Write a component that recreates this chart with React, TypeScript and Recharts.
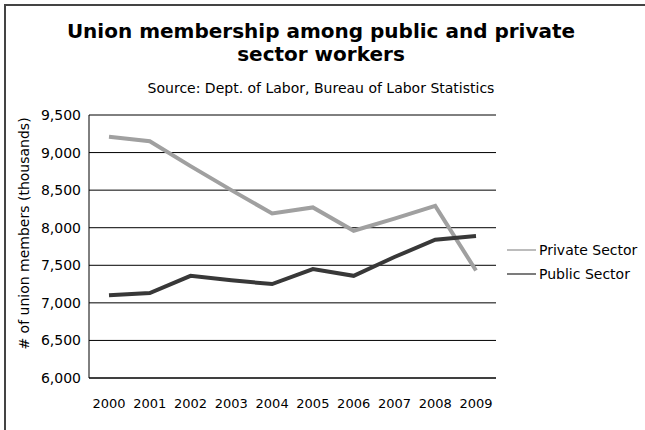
import React from 'react';
import { LineChart, Line, XAxis, YAxis, CartesianGrid } from 'recharts';

const years = ['2000', '2001', '2002', '2003', '2004', '2005', '2006', '2007', '2008', '2009'];
const privateSector = [9210, 9150, 8820, 8500, 8190, 8270, 7960, 8120, 8290, 7430];
const publicSector = [7100, 7130, 7360, 7300, 7250, 7450, 7360, 7610, 7840, 7890];
const yTicks = [6000, 6500, 7000, 7500, 8000, 8500, 9000, 9500];

const data = years.map((year, i) => ({
  year,
  private: privateSector[i],
  public: publicSector[i],
}));

const font = '"DejaVu Sans", Verdana, sans-serif';

function LegendBox() {
  const items = [
    { label: 'Private Sector', color: '#a6a6a6' },
    { label: 'Public Sector', color: '#505050' },
  ];
  return (
    <div style={{ fontFamily: font, fontSize: 14, color: '#000' }}>
      {items.map((it) => (
        <div key={it.label} style={{ display: 'flex', alignItems: 'center', height: 24 }}>
          <svg width={29} height={4} style={{ marginRight: 3 }}>
            <line x1={0} y1={2} x2={29} y2={2} stroke={it.color} strokeWidth={1.5} />
          </svg>
          <span>{it.label}</span>
        </div>
      ))}
    </div>
  );
}

export default function App() {
  return (
    <div style={{ position: 'absolute', left: 0, top: 0, width: 645, height: 430, background: '#fff', fontFamily: font }}>
      {/* frame lines at top and left */}
      <div style={{ position: 'absolute', left: 4, top: 4, width: 641, height: 2, background: '#444' }} />
      <div style={{ position: 'absolute', left: 4, top: 4, width: 2, height: 426, background: '#444' }} />
      <div
        style={{
          position: 'absolute',
          left: 0,
          top: 20,
          width: 642,
          textAlign: 'center',
          fontWeight: 'bold',
          fontSize: 20,
          lineHeight: '23px',
          color: '#000',
        }}
      >
        Union membership among public and private
        <br />
        sector workers
      </div>
      <div
        style={{
          position: 'absolute',
          left: 0,
          top: 79,
          width: 642,
          textAlign: 'center',
          fontSize: 14,
          lineHeight: '18px',
          color: '#000',
        }}
      >
        Source: Dept. of Labor, Bureau of Labor Statistics
      </div>
      <div style={{ position: 'absolute', left: 0, top: 0 }}>
        <LineChart width={645} height={430} data={data} margin={{ top: 115, right: 149, bottom: 0, left: 0 }}>
          <CartesianGrid vertical={false} stroke="#000" strokeWidth={1} />
          <XAxis
            dataKey="year"
            axisLine={{ stroke: '#000' }}
            tickLine={false}
            tickMargin={15}
            height={52}
            interval={0}
            padding={{ left: 20, right: 20 }}
            tick={{ fill: '#000', fontSize: 13, fontFamily: font }}
          />
          <YAxis
            domain={[6000, 9500]}
            ticks={yTicks}
            interval={0}
            width={89}
            axisLine={{ stroke: '#000' }}
            tickLine={false}
            tickFormatter={(v: number) => v.toLocaleString('en-US')}
            tick={{ fill: '#000', fontSize: 14, fontFamily: font }}
            label={{
              value: '# of union members (thousands)',
              angle: -90,
              position: 'insideLeft',
              offset: 0,
              dx: 24,
              dy: -13,
              style: { fill: '#000', fontSize: 14, fontFamily: font, textAnchor: 'middle' },
            }}
          />
          <Line
            type="linear"
            dataKey="private"
            name="Private Sector"
            stroke="#a0a0a0"
            strokeWidth={4}
            dot={false}
            isAnimationActive={false}
          />
          <Line
            type="linear"
            dataKey="public"
            name="Public Sector"
            stroke="#383838"
            strokeWidth={4}
            dot={false}
            isAnimationActive={false}
          />
        </LineChart>
      </div>
      <div style={{ position: 'absolute', left: 507, top: 238, width: 140 }}>
        <LegendBox />
      </div>
    </div>
  );
}
